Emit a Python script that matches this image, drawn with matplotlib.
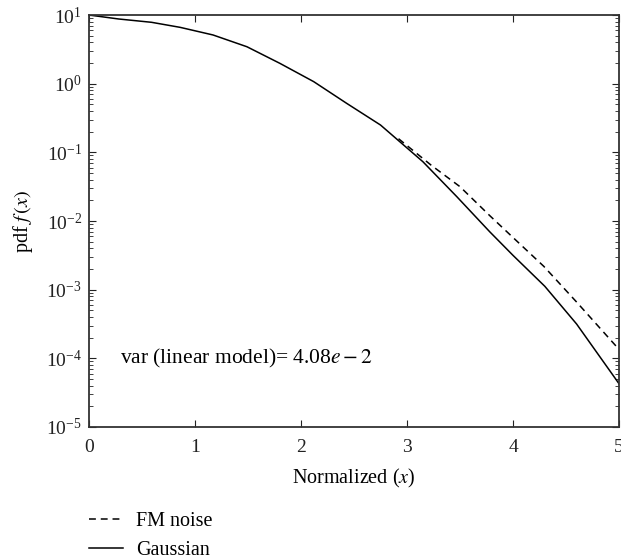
import matplotlib.pyplot as plt

plt.rcParams['font.family'] = ['Liberation Serif', 'DejaVu Serif']
plt.rcParams['mathtext.fontset'] = 'stix'

# values
x_gauss = [0.0, 0.28, 0.59, 0.86, 1.17, 1.49, 1.80, 2.12, 2.43, 2.75, 3.15, 3.47, 3.78, 4.0, 4.3, 4.6, 5.0]
y_gauss = [10, 8.75, 7.83, 6.61, 5.12, 3.45, 1.98, 1.07, 0.518, 0.25, 0.073, 0.0226, 0.00698,
           0.00316, 0.00112, 0.000316, 0.0000427]

x_fm = [2.92, 3.23, 3.5, 3.78, 4.0, 4.29, 4.6, 5.0]
y_fm = [0.158, 0.0646, 0.0316, 0.012, 0.00575, 0.00219, 0.00066, 0.000135]

fig = plt.figure(figsize=(6.21, 5.6), dpi=100)
ax = fig.add_axes([0.1433, 0.2375, 0.8535, 0.7357])

l1, = ax.plot(x_fm, y_fm, 'k--', lw=1.1, dashes=(4.5, 3.2), label='FM noise')
l2, = ax.plot(x_gauss, y_gauss, 'k-', lw=1.1, label='Gaussian')

ax.set_yscale('log')
ax.set_xlim(0, 5)
ax.set_ylim(1e-5, 1e1)
ax.set_xticks([0, 1, 2, 3, 4, 5])
ax.tick_params(which='both', direction='in', top=True, right=True, labelsize=14, colors='#222222')
ax.tick_params(which='major', length=5)
ax.tick_params(axis='x', which='major', pad=8.5)
ax.tick_params(axis='y', which='major', pad=5)
ax.tick_params(which='minor', length=3)
for s in ax.spines.values():
    s.set_linewidth(1.3)
    s.set_color('#333333')

ax.set_xlabel('Normalized ($x$)', fontsize=14.5, labelpad=8)
ax.set_ylabel('pdf $f\\,(x)$', fontsize=14.5, labelpad=8)

ax.text(0.29, 1e-4, 'var (linear model)= 4.08$e-2$', fontsize=15.5, va='center')

fig.legend(handles=[l1, l2], loc='upper left', bbox_to_anchor=(89 / 621, 1 - 512 / 560), frameon=False,
           fontsize=14.5, handlelength=1.7, handletextpad=0.65, labelspacing=0.5,
           borderpad=0, borderaxespad=0)

fig.savefig('out.png', dpi=100)
